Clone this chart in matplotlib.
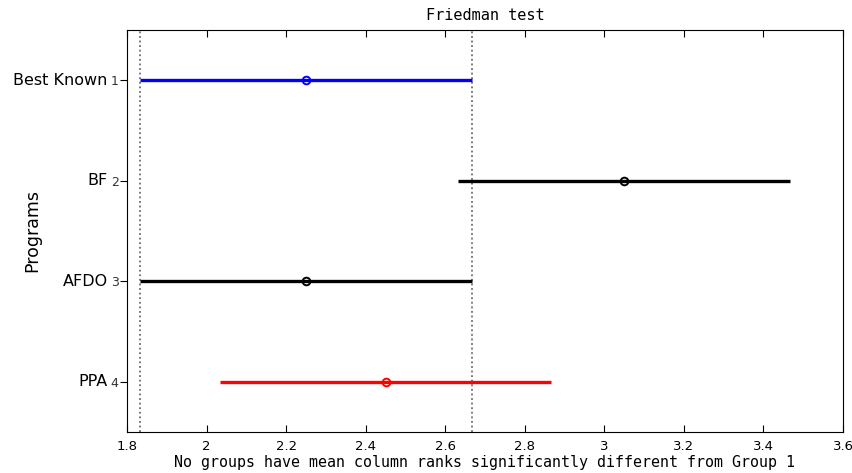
import matplotlib
matplotlib.use("Agg")
import matplotlib.pyplot as plt

groups = ["Best Known", "BF", "AFDO", "PPA"]
group_ids = [1, 2, 3, 4]
means = [2.25, 3.05, 2.25, 2.45]
lower = [1.833, 2.633, 1.833, 2.033]
upper = [2.667, 3.467, 2.667, 2.867]
colors = ["#0000ff", "#000000", "#000000", "#ff0000"]
ref_bounds = [1.833, 2.667]
xticks = [1.8, 2.0, 2.2, 2.4, 2.6, 2.8, 3.0, 3.2, 3.4, 3.6]
xticklabels = ["1.8", "2", "2.2", "2.4", "2.6", "2.8", "3", "3.2", "3.4", "3.6"]

W, H = 852, 473
fig = plt.figure(figsize=(W / 100, H / 100), dpi=100)
ax = fig.add_axes([127 / W, 1 - 432 / H, (843 - 127) / W, (432 - 30) / H])

for b in ref_bounds:
    ax.axvline(b, color="#555555", linestyle=(0, (1.2, 1.8)), linewidth=1.1, zorder=1)

for gid, m, lo, hi, c in zip(group_ids, means, lower, upper, colors):
    ax.plot([lo, hi], [gid, gid], color=c, linewidth=2.4, solid_capstyle="butt", zorder=2)
    ax.plot([m], [gid], marker="o", markersize=5.5, markerfacecolor="none",
            markeredgecolor=c, markeredgewidth=1.4, zorder=3)

ax.set_xlim(1.8, 3.6)
ax.set_ylim(4.5, 0.5)
ax.set_xticks(xticks)
ax.set_xticklabels(xticklabels, fontsize=9.5)
ax.set_yticks(group_ids)
ax.set_yticklabels([str(g) for g in group_ids], fontsize=9, color="#333333")
ax.tick_params(axis="x", direction="in", top=True, bottom=True, length=5, width=0.8, pad=6)
ax.tick_params(axis="y", direction="out", left=True, right=False, length=5, width=0.8, pad=1)
for s in ax.spines.values():
    s.set_linewidth(0.8)

for gid, name in zip(group_ids, groups):
    ax.annotate(name, xy=(0, gid), xycoords=("axes fraction", "data"),
                xytext=(-14, 0), textcoords="offset points",
                ha="right", va="center", fontsize=11.5, family="DejaVu Sans")

ax.set_ylabel("Programs", fontsize=12.5, labelpad=50)
ax.set_title("Friedman test", fontsize=11, family="DejaVu Sans Mono", pad=7)
ax.set_xlabel("No groups have mean column ranks significantly different from Group 1",
              fontsize=10.8, family="DejaVu Sans Mono", labelpad=1)

fig.savefig("out.png", dpi=100)
